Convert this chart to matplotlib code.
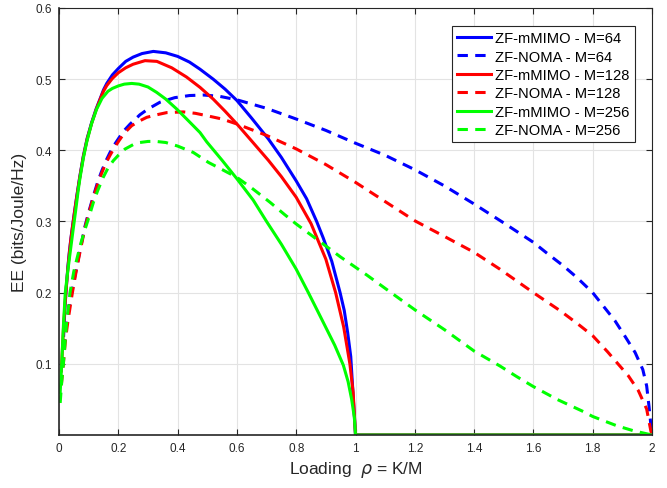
import matplotlib
matplotlib.use("Agg")
import matplotlib.pyplot as plt

# Energy efficiency vs. loading, ZF massive MIMO and ZF-NOMA for three antenna counts
mimo64_rho = [0.0156, 0.02, 0.025, 0.03, 0.035, 0.04, 0.046, 0.053, 0.06, 0.07, 0.082, 0.095, 0.11,
              0.125, 0.14, 0.15, 0.161, 0.18, 0.2, 0.225, 0.25, 0.28, 0.318, 0.36, 0.4, 0.44, 0.4755,
              0.52, 0.56, 0.6, 0.65, 0.706, 0.75, 0.8, 0.835, 0.869, 0.891, 0.92, 0.948, 0.962,
              0.9735, 0.984, 1.0, 2.0]
mimo64_ee = [0.14, 0.18, 0.21, 0.237, 0.258, 0.276, 0.295, 0.316, 0.336, 0.363, 0.392, 0.417, 0.439,
             0.458, 0.474, 0.485, 0.494, 0.506, 0.515, 0.525, 0.531, 0.536, 0.539, 0.537, 0.532, 0.524,
             0.514, 0.5, 0.486, 0.47, 0.445, 0.416, 0.39, 0.357, 0.332, 0.3, 0.277, 0.244, 0.2, 0.175,
             0.144, 0.11, 0.0, 0.0]

mimo128_rho = [0.0078, 0.012, 0.015, 0.02, 0.025, 0.03, 0.035, 0.04, 0.046, 0.053, 0.06, 0.07, 0.082,
               0.095, 0.11, 0.125, 0.14, 0.15, 0.161, 0.18, 0.2, 0.225, 0.25, 0.29, 0.33, 0.38, 0.43,
               0.4755, 0.52, 0.56, 0.6, 0.65, 0.706, 0.75, 0.8, 0.85, 0.9, 0.933, 0.96, 0.981, 0.992,
               1.0, 2.0]
mimo128_ee = [0.09, 0.125, 0.15, 0.183, 0.21, 0.235, 0.256, 0.275, 0.294, 0.315, 0.335, 0.362, 0.391,
              0.416, 0.438, 0.457, 0.473, 0.483, 0.491, 0.501, 0.509, 0.516, 0.521, 0.526, 0.525, 0.516,
              0.503, 0.4885, 0.472, 0.455, 0.437, 0.413, 0.386, 0.363, 0.334, 0.297, 0.247, 0.2, 0.152,
              0.1, 0.06, 0.0, 0.0]

mimo256_rho = [0.0039, 0.009, 0.015, 0.021, 0.03, 0.038, 0.048, 0.056, 0.065, 0.071, 0.082, 0.093,
               0.11, 0.127, 0.145, 0.165, 0.18, 0.2, 0.22, 0.245, 0.27, 0.3, 0.329, 0.36, 0.397, 0.44,
               0.4755, 0.498, 0.55, 0.6, 0.655, 0.7, 0.75, 0.8, 0.841, 0.87, 0.9, 0.93, 0.959, 0.975,
               0.987, 0.996, 1.0, 2.0]
mimo256_ee = [0.06, 0.1, 0.155, 0.2, 0.232, 0.258, 0.29, 0.315, 0.345, 0.362, 0.389, 0.411,
              0.438, 0.458, 0.473, 0.483, 0.487, 0.4905, 0.493, 0.494, 0.493, 0.489, 0.4815, 0.472, 0.458,
              0.44, 0.425, 0.412, 0.386, 0.36, 0.33, 0.3, 0.268, 0.233, 0.2, 0.176, 0.151, 0.126, 0.098,
              0.075, 0.05, 0.025, 0.0, 0.0]

noma64_rho = [0.0156, 0.022, 0.03, 0.045, 0.06, 0.075, 0.088, 0.1, 0.116, 0.13, 0.144, 0.158, 0.172,
              0.187, 0.203, 0.22, 0.24, 0.273, 0.3, 0.34, 0.39, 0.44, 0.487, 0.54, 0.6, 0.7, 0.8, 0.9,
              1.0, 1.1, 1.2, 1.3, 1.4, 1.5, 1.6, 1.645, 1.7, 1.746, 1.8, 1.875, 1.91, 1.943, 1.969,
              1.982, 1.99, 1.996, 2.0]
noma64_ee = [0.12, 0.145, 0.17, 0.205, 0.237, 0.268, 0.294, 0.313, 0.336, 0.355, 0.371, 0.385, 0.397,
             0.408, 0.418, 0.428, 0.437, 0.45, 0.458, 0.4675, 0.474, 0.477, 0.4777, 0.476, 0.471, 0.459,
             0.444, 0.428, 0.41, 0.393, 0.3728, 0.35, 0.3246, 0.298, 0.2707, 0.2557, 0.238, 0.2216,
             0.2, 0.1606, 0.138, 0.116, 0.092, 0.069, 0.04, 0.015, 0.0]

noma128_rho = [0.0078, 0.0146, 0.022, 0.03, 0.045, 0.06, 0.075, 0.088, 0.1, 0.116, 0.13, 0.144, 0.158,
               0.172, 0.187, 0.203, 0.22, 0.245, 0.27, 0.296, 0.33, 0.363, 0.419, 0.46, 0.498, 0.55,
               0.6, 0.7, 0.8, 0.9, 1.0, 1.1, 1.2, 1.3, 1.4, 1.487, 1.6, 1.69, 1.75, 1.8, 1.85, 1.881,
               1.92, 1.954, 1.982, 1.996, 2.0]
noma128_ee = [0.07, 0.1, 0.135, 0.16, 0.2, 0.235, 0.266, 0.292, 0.311, 0.334, 0.352, 0.368, 0.382,
              0.393, 0.404, 0.414, 0.424, 0.4346, 0.441, 0.4464, 0.45, 0.453, 0.454, 0.452, 0.4487, 0.444,
              0.437, 0.421, 0.402, 0.38, 0.355, 0.328, 0.301, 0.279, 0.2567, 0.233, 0.2, 0.1747, 0.156,
              0.1395, 0.117, 0.102, 0.0833, 0.0623, 0.0365, 0.006, 0.0]

noma256_rho = [0.0039, 0.009, 0.0146, 0.025, 0.037, 0.05, 0.06, 0.074, 0.0877, 0.1, 0.116, 0.13, 0.149,
               0.165, 0.183, 0.2, 0.2226, 0.25, 0.273, 0.3, 0.325, 0.36, 0.4, 0.453, 0.504, 0.55, 0.6,
               0.65, 0.7116, 0.76, 0.8, 0.863, 0.95, 1.038, 1.12, 1.2, 1.3, 1.4, 1.487, 1.544, 1.6, 1.68,
               1.768, 1.8, 1.881, 1.937, 2.0]
noma256_ee = [0.045, 0.075, 0.1, 0.155, 0.2, 0.23, 0.247, 0.27, 0.289, 0.305, 0.327, 0.343, 0.362,
              0.375, 0.3854, 0.393, 0.4018, 0.408, 0.411, 0.4125, 0.4126, 0.411, 0.406, 0.397, 0.383,
              0.373, 0.362, 0.347, 0.327, 0.31, 0.2965, 0.277, 0.25, 0.2248, 0.2, 0.176, 0.148, 0.118,
              0.097, 0.082, 0.068, 0.05, 0.033, 0.026, 0.013, 0.006, 0.0]

series = [
    ("ZF-mMIMO - M=64", mimo64_rho, mimo64_ee, (0, 0, 1), "-"),
    ("ZF-NOMA - M=64", noma64_rho, noma64_ee, (0, 0, 1), "--"),
    ("ZF-mMIMO - M=128", mimo128_rho, mimo128_ee, (1, 0, 0), "-"),
    ("ZF-NOMA - M=128", noma128_rho, noma128_ee, (1, 0, 0), "--"),
    ("ZF-mMIMO - M=256", mimo256_rho, mimo256_ee, (0, 1, 0), "-"),
    ("ZF-NOMA - M=256", noma256_rho, noma256_ee, (0, 1, 0), "--"),
]

x_ticks = [0, 0.2, 0.4, 0.6, 0.8, 1, 1.2, 1.4, 1.6, 1.8, 2]
x_labels = ["0", "0.2", "0.4", "0.6", "0.8", "1", "1.2", "1.4", "1.6", "1.8", "2"]
y_ticks = [0.1, 0.2, 0.3, 0.4, 0.5, 0.6]
y_labels = ["0.1", "0.2", "0.3", "0.4", "0.5", "0.6"]

plt.rcParams["font.family"] = ["Liberation Sans", "DejaVu Sans"]
plt.rcParams["mathtext.fontset"] = "dejavusans"

axis_gray = "#262626"
fig = plt.figure(figsize=(6.67, 4.89), dpi=100)
ax = fig.add_axes([0.0885, 0.1084, 0.889, 0.8732])

for label, rho, ee, color, ls in series:
    line, = ax.plot(rho, ee, ls, color=color, lw=2.2, label=label,
                    solid_joinstyle="round", dash_joinstyle="round")
    if ls == "--":
        line.set_dashes((3.4, 2.4))

ax.set_xlim(0, 2)
ax.set_ylim(0, 0.6)
ax.set_xticks(x_ticks)
ax.set_xticklabels(x_labels)
ax.set_yticks(y_ticks)
ax.set_yticklabels(y_labels)
ax.grid(True, color="#e3e3e3", lw=0.8)
ax.set_axisbelow(True)
ax.tick_params(direction="in", top=True, right=True, length=4, width=0.8,
               colors=axis_gray, labelsize=8.5, pad=5)
for s in ax.spines.values():
    s.set_color(axis_gray)
    s.set_linewidth(0.8)
for s in ("left", "bottom"):
    ax.spines[s].set_linewidth(1.2)

ax.set_xlabel(r"Loading  $\rho$ = K/M", fontsize=12.5, color=axis_gray, labelpad=4)
ax.set_ylabel("EE (bits/Joule/Hz)", fontsize=12.5, color=axis_gray, labelpad=6)

leg = ax.legend(loc="upper right", bbox_to_anchor=(0.971, 0.958), fontsize=10.6,
                handlelength=2.3, handletextpad=0.3, borderpad=0.35, labelspacing=0.3,
                frameon=True, fancybox=False, framealpha=1, edgecolor=axis_gray,
                borderaxespad=0.0)
leg.get_frame().set_linewidth(0.8)

fig.savefig("out.png", dpi=100)
